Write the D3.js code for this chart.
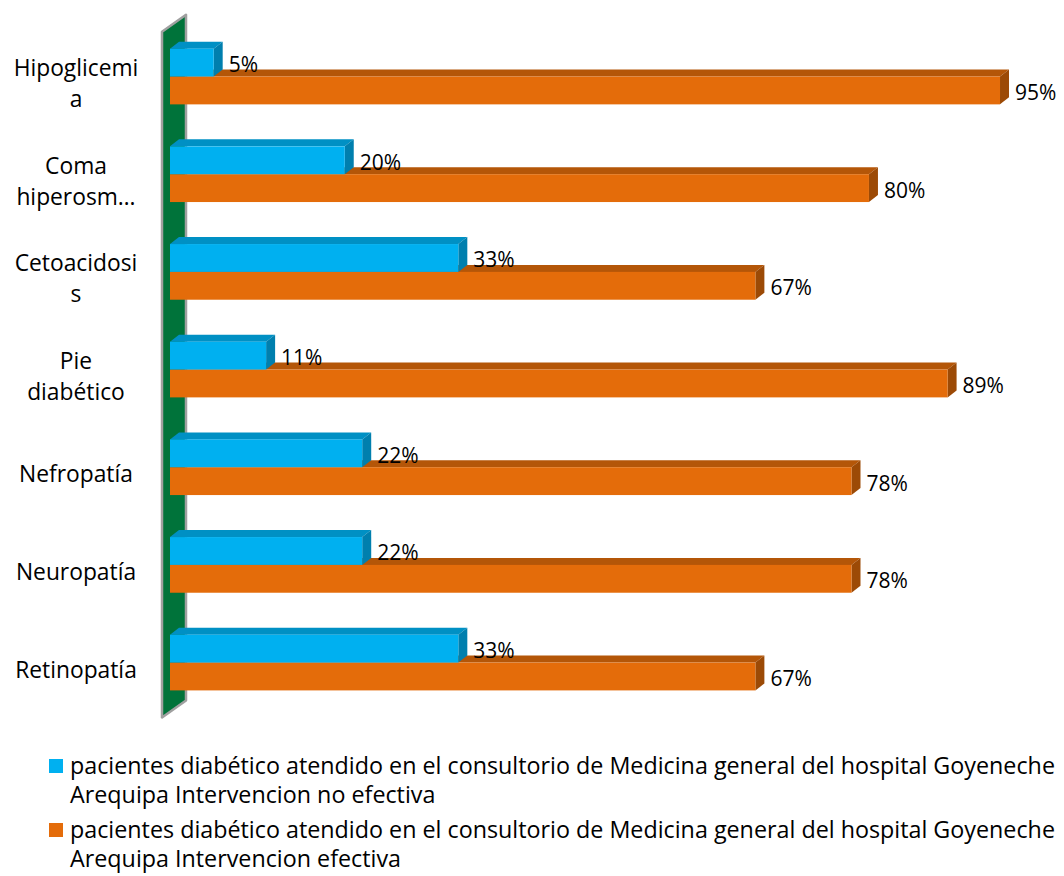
<!DOCTYPE html>
<html lang="es">
<head>
<meta charset="UTF-8">
<title>Complicaciones</title>
<script src="https://d3js.org/d3.v7.min.js"></script>
<style>
    body { margin: 0; background: #fff; }
    svg { display: block; font-family: "Open Sans", Lato, sans-serif; }
</style>
</head>
<body>
<svg id="chart" width="1064" height="876"></svg>
<script>
// data
const categories = ["Hipoglicemia", "Coma hiperosmolar", "Cetoacidosis", "Pie diabético", "Nefropatía", "Neuropatía", "Retinopatía"];
const tickLabels = [["Hipoglicemi", "a"], ["Coma", "hiperosm…"], ["Cetoacidosi", "s"], ["Pie", "diabético"], ["Nefropatía"], ["Neuropatía"], ["Retinopatía"]];
const noEfectiva = [5, 20, 33, 11, 22, 22, 33];
const efectiva = [95, 80, 67, 89, 78, 78, 67];
const seriesNames = [
    "pacientes diabético atendido en el consultorio de Medicina general del hospital Goyeneche Arequipa Intervencion no efectiva",
    "pacientes diabético atendido en el consultorio de Medicina general del hospital Goyeneche Arequipa Intervencion efectiva"
];

const svg = d3.select("#chart");

const x = d3.scaleLinear().domain([0, 100]).range([170, 1043.7]);
const y = d3.scaleBand().domain(categories).range([27.7, 711.4])
    .paddingInner(0.43).paddingOuter(0.215);

const dx = 9, dy = -7;   // bar depth
const series = [
    { values: efectiva, front: "#e46c0a", top: "#b45608", side: "#9c4a06", offset: 1 },
    { values: noEfectiva, front: "#00b0f0", top: "#0090c4", side: "#007fae", offset: 0 }
];
const bh = y.bandwidth() / 2;

// side wall
const wx = x(0) - 8, wTop = y.range()[0] + 4, wBot = y.range()[1] + 6;
svg.append("polygon")
    .attr("points", [[wx, wTop], [wx + 24, wTop - 17], [wx + 24, wBot - 17], [wx, wBot]].join(" "))
    .attr("fill", "#00733a")
    .attr("stroke", "#a0a0a0")
    .attr("stroke-width", 2.5)
    .attr("stroke-linejoin", "round");

// bars, category by category, orange first so blue sits in front of its top face
categories.forEach((c, i) => {
    series.forEach(s => {
        const x0 = x(0), x1 = x(s.values[i]);
        const y0 = y(c) + s.offset * bh, y1 = y0 + bh;
        const g = svg.append("g");
        g.append("polygon")
            .attr("points", [[x0, y0], [x1, y0], [x1 + dx, y0 + dy], [x0 + dx, y0 + dy]].join(" "))
            .attr("fill", s.top);
        g.append("polygon")
            .attr("points", [[x1, y0], [x1 + dx, y0 + dy], [x1 + dx, y1 + dy], [x1, y1]].join(" "))
            .attr("fill", s.side);
        g.append("rect")
            .attr("x", x0).attr("y", y0)
            .attr("width", x1 - x0).attr("height", bh)
            .attr("fill", s.front);
    });
});

// value labels
series.forEach(s => {
    svg.append("g").selectAll("text")
        .data(categories)
        .join("text")
        .attr("x", (c, i) => x(s.values[i]) + 15)
        .attr("y", c => y(c) + s.offset * bh + bh / 2 + 1.5)
        .attr("dominant-baseline", "central")
        .attr("font-size", 21)
        .attr("fill", "#000")
        .text((c, i) => s.values[i] + "%");
});

// category labels
const cat = svg.append("g").selectAll("text")
    .data(categories)
    .join("text")
    .attr("text-anchor", "middle")
    .attr("font-size", 22.8)
    .attr("fill", "#000");
cat.each(function (c, i) {
    const lines = tickLabels[i];
    const cy = y(c) + y.bandwidth() / 2 + 15;
    lines.forEach((l, j) => {
        d3.select(this).append("tspan")
            .attr("x", 76)
            .attr("y", cy + (j - (lines.length - 1) / 2) * 31)
            .text(l);
    });
});

// legend
const legColors = ["#00b0f0", "#e46c0a"];
const legend = svg.append("g").attr("font-size", 23.3);
seriesNames.forEach((name, i) => {
    const top = 759 + i * 64;
    legend.append("rect")
        .attr("x", 49).attr("y", top)
        .attr("width", 14).attr("height", 14)
        .attr("fill", legColors[i]);
    const t = legend.append("text").attr("fill", "#000");
    // wrap to the legend width
    const words = name.split(" ");
    let line = [], n = 0;
    let ts = t.append("tspan").attr("x", 70).attr("y", top + 15);
    words.forEach(w => {
        line.push(w);
        ts.text(line.join(" "));
        if (ts.node().getComputedTextLength() > 1000 && line.length > 1) {
            line.pop();
            ts.text(line.join(" "));
            line = [w];
            n++;
            ts = t.append("tspan").attr("x", 70).attr("y", top + 15 + n * 29).text(w);
        }
    });
});
</script>
</body>
</html>
